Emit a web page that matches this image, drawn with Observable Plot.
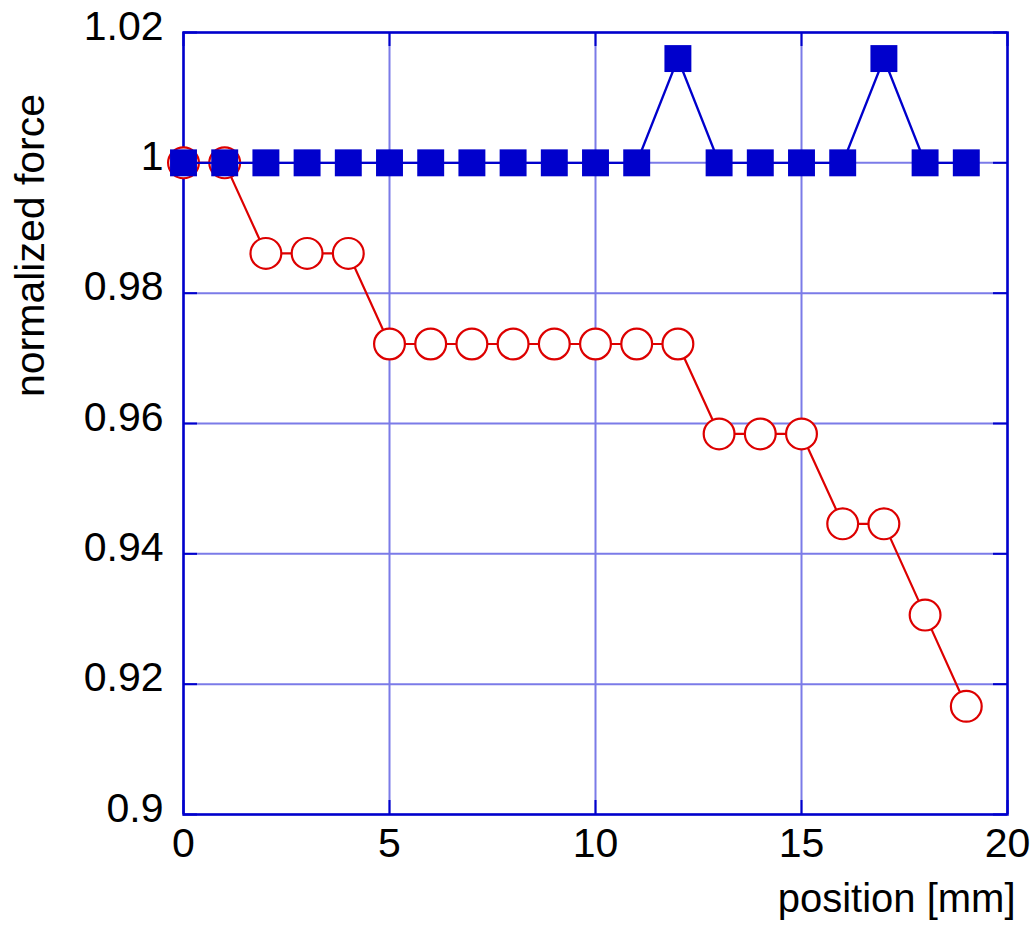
<!DOCTYPE html>
<html><head><meta charset="utf-8">
<script src="https://cdn.jsdelivr.net/npm/d3@7"></script>
<script src="https://cdn.jsdelivr.net/npm/@observablehq/plot@0.6"></script>
<style>html,body{margin:0;padding:0;background:#fff}#chart svg{display:block}</style>
</head><body><div id="chart"></div>
<script>
const positions = [0,1,2,3,4,5,6,7,8,9,10,11,12,13,14,15,16,17,18,19];
const blueForce = [1,1,1,1,1,1,1,1,1,1,1,1,1.016,1,1,1,1,1.016,1,1];
const redForce  = [1,1,0.9861,0.9861,0.9861,0.9722,0.9722,0.9722,0.9722,0.9722,0.9722,0.9722,0.9722,0.9584,0.9584,0.9584,0.9446,0.9446,0.9306,0.9166];
const xTicks = [0,5,10,15,20];
const yTicks = [0.9,0.92,0.94,0.96,0.98,1,1.02];
const yTickLabels = ["0.9","0.92","0.94","0.96","0.98","1","1.02"];
const xLabel = "position [mm]";
const yLabel = "normalized force";

const W = 1035, H = 928, mL = 183, mR = 28, mT = 32, mB = 114;
const pw = W - mL - mR, ph = H - mT - mB;
const tickLen = 14;
const gridColor = "#7b7be8", frameColor = "#0000cc", redColor = "#dd0000";
const font = "'Liberation Sans', Arial, sans-serif";
const fs = 41;

const blueRows = positions.map((x, i) => ({x, y: blueForce[i]}));
const redRows = positions.map((x, i) => ({x, y: redForce[i]}));

const chart = Plot.plot({
  width: W, height: H,
  marginLeft: mL, marginRight: mR, marginTop: mT, marginBottom: mB,
  style: {fontFamily: font, fontSize: fs + "px", color: "#000", background: "#fff"},
  x: {domain: [0, 20]},
  y: {domain: [0.9, 1.02]},
  marks: [
    Plot.gridX(xTicks, {stroke: gridColor, strokeOpacity: 1, strokeWidth: 2}),
    Plot.gridY(yTicks, {stroke: gridColor, strokeOpacity: 1, strokeWidth: 2}),
    Plot.tickY(yTicks, {y: d => d, stroke: frameColor, strokeWidth: 2, insetRight: pw - tickLen}),
    Plot.tickY(yTicks, {y: d => d, stroke: frameColor, strokeWidth: 2, insetLeft: pw - tickLen}),
    Plot.tickX(xTicks, {x: d => d, stroke: frameColor, strokeWidth: 2, insetBottom: ph - tickLen}),
    Plot.tickX(xTicks, {x: d => d, stroke: frameColor, strokeWidth: 2, insetTop: ph - tickLen}),
    Plot.frame({stroke: frameColor, strokeWidth: 2.5}),
    Plot.axisX(xTicks, {tickSize: 0, tickPadding: 13, label: null, fontSize: fs, fill: "#000"}),
    Plot.axisY(yTicks, {tickSize: 0, tickPadding: 20, label: null, dy: -6, fontSize: fs, fill: "#000",
      tickFormat: d => yTickLabels[yTicks.indexOf(d)]}),
    Plot.line(redRows, {x: "x", y: "y", stroke: redColor, strokeWidth: 2.2}),
    Plot.dot(redRows, {x: "x", y: "y", r: 15.4, fill: "white", stroke: redColor, strokeWidth: 2.2}),
    Plot.line(blueRows, {x: "x", y: "y", stroke: frameColor, strokeWidth: 2.4}),
    Plot.dot(blueRows, {x: "x", y: "y", symbol: "square", r: 15.2, fill: frameColor, stroke: "none"}),
    Plot.text([yLabel], {text: d => d, frameAnchor: "top-left", rotate: -90, dx: -153, dy: 213,
      textAnchor: "middle", lineAnchor: "middle", fontSize: fs, fill: "#000"}),
    Plot.text([xLabel], {text: d => d, frameAnchor: "bottom-right", dx: 8, dy: 85,
      textAnchor: "end", lineAnchor: "middle", fontSize: 40, fill: "#000"})
  ]
});
document.getElementById("chart").appendChild(chart);
</script>
</body></html>
